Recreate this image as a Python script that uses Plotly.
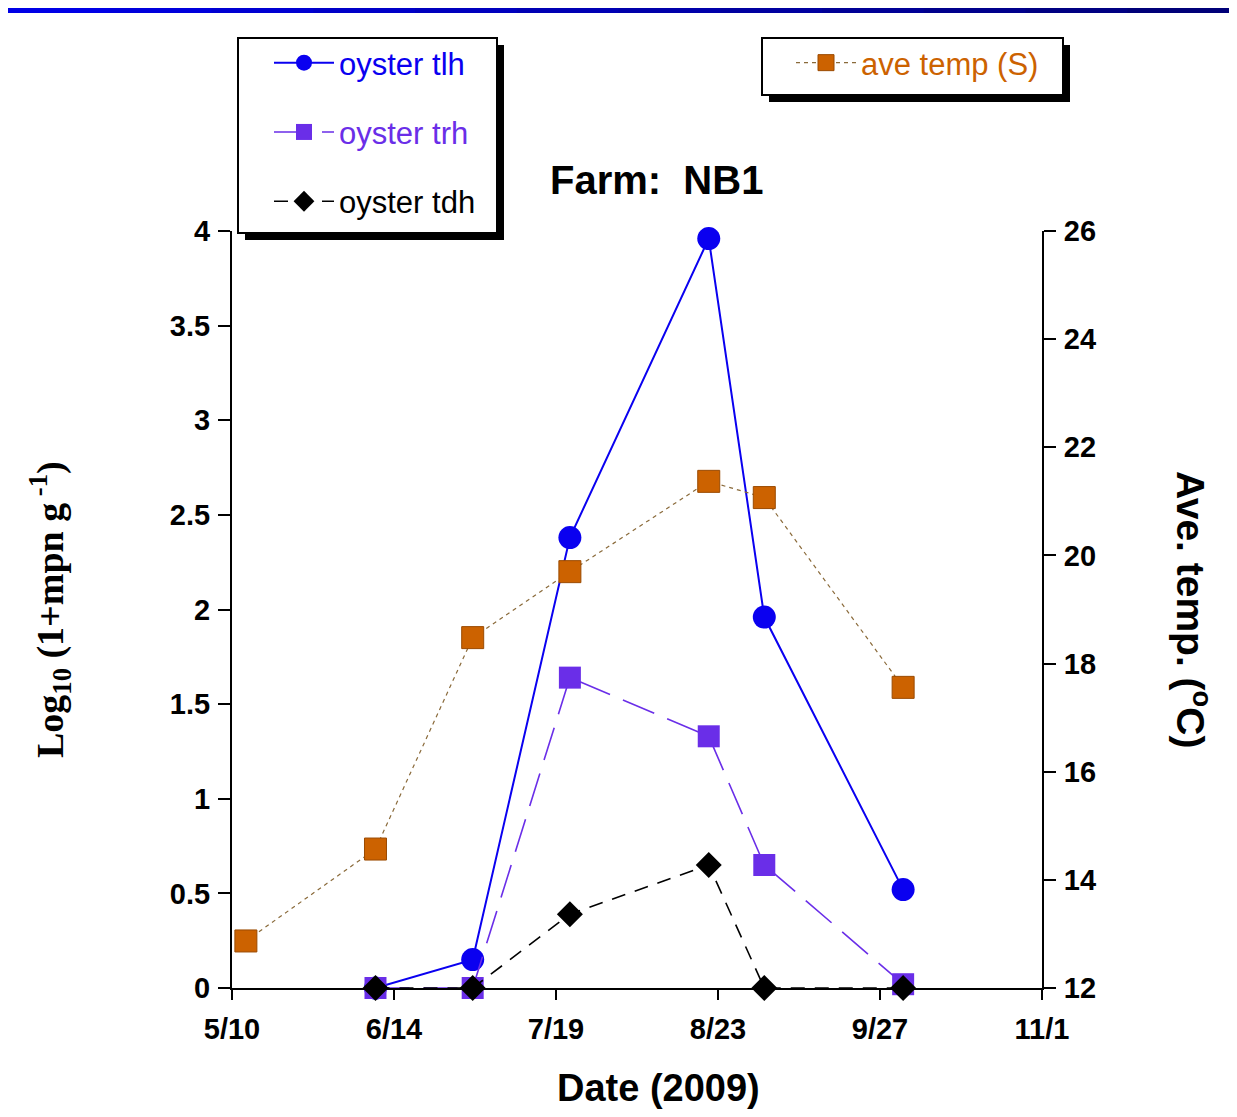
import plotly.graph_objects as go

# ---------------- data ----------------
sample_dates = ["2009-06-10", "2009-07-01", "2009-07-22", "2009-08-21", "2009-09-02", "2009-10-02"]
oyster_tlh = [0.0, 0.15, 2.38, 3.96, 1.96, 0.52]
oyster_trh = [0.0, 0.0, 1.64, 1.33, 0.65, 0.02]
oyster_tdh = [0.0, 0.0, 0.39, 0.65, 0.0, 0.0]

temp_dates = ["2009-05-13", "2009-06-10", "2009-07-01", "2009-07-22", "2009-08-21", "2009-09-02", "2009-10-02"]
ave_temp = [12.87, 14.57, 18.48, 19.70, 21.37, 21.07, 17.56]

x_tick_vals = ["2009-05-10", "2009-06-14", "2009-07-19", "2009-08-23", "2009-09-27", "2009-11-01"]
x_tick_text = ["5/10", "6/14", "7/19", "8/23", "9/27", "11/1"]

# ---------------- layout geometry (page pixels; page has an 8px body margin) ----------------
OFF = 8
W, H = 1237 - 2 * OFF, 1117 - 2 * OFF
PL, PR, PT, PB = 232, 1042, 231, 988          # plot area in page pixels
L, R, T, B = PL - OFF, PR - OFF, PT - OFF, PB - OFF


def px(xp):
    return (xp - PL) / (PR - PL)


def py(yp):
    return (PB - yp) / (PB - PT)


BLUE = "#0A00F0"
PURPLE = "#6A2EE8"
ORANGE = "#CC6200"
SANS = "Liberation Sans, Arial, sans-serif"
SERIF = "Liberation Serif, Times New Roman, serif"

fig = go.Figure()

fig.add_trace(go.Scatter(
    x=temp_dates, y=ave_temp, yaxis="y2", mode="lines+markers",
    name="<span style='color:%s'>ave temp (S)</span>" % ORANGE,
    line=dict(color="#8a6a3a", width=1.2, dash="4px,4px"),
    marker=dict(symbol="square", size=22, color=ORANGE, line=dict(color="#9a4a00", width=1)),
    cliponaxis=False, legend="legend2",
))
fig.add_trace(go.Scatter(
    x=sample_dates, y=oyster_tlh, mode="lines+markers",
    name="<span style='color:%s'>oyster tlh</span>" % BLUE,
    line=dict(color=BLUE, width=2),
    marker=dict(symbol="circle", size=23, color=BLUE),
    cliponaxis=False, legendgroup="a",
))
fig.add_trace(go.Scatter(
    x=sample_dates, y=oyster_trh, mode="lines+markers",
    name="<span style='color:%s'>oyster trh</span>" % PURPLE,
    line=dict(color=PURPLE, width=1.6, dash="34px,14px"),
    marker=dict(symbol="square", size=22, color=PURPLE),
    cliponaxis=False, legendgroup="b",
))
fig.add_trace(go.Scatter(
    x=sample_dates, y=oyster_tdh, mode="lines+markers",
    name="oyster tdh",
    line=dict(color="black", width=1.6, dash="14px,10px"),
    marker=dict(symbol="diamond", size=20, color="black"),
    cliponaxis=False, legendgroup="c",
))

shapes = []
# top slide bar (gradient approximated by segments)
n = 12
for i in range(n):
    t = i / (n - 1)
    b = int(230 - 110 * t)
    shapes.append(dict(type="rect", xref="paper", yref="paper",
                       x0=px(OFF + W * i / n), x1=px(OFF + W * (i + 1) / n) + 0.001,
                       y0=py(OFF + 5), y1=py(OFF), fillcolor="rgb(0,0,%d)" % b,
                       line=dict(width=0), layer="above"))

# legend boxes with drop shadow
for (x0, y0, x1, y1) in [(238, 38, 497, 233), (762, 38, 1063, 95)]:
    shapes.append(dict(type="rect", xref="paper", yref="paper",
                       x0=px(x0 + 7), x1=px(x1 + 7), y0=py(y1 + 7), y1=py(y0 + 7),
                       fillcolor="black", line=dict(width=0), layer="above"))
    shapes.append(dict(type="rect", xref="paper", yref="paper",
                       x0=px(x0), x1=px(x1), y0=py(y1), y1=py(y0),
                       fillcolor="white", line=dict(color="black", width=2), layer="above"))

annotations = [
    dict(text="<b>Farm:\u00a0 NB1</b>", xref="paper", yref="paper", x=px(656), y=py(180),
         showarrow=False, font=dict(family=SANS, size=40, color="black"),
         xanchor="center", yanchor="middle"),
    dict(text="<b>Date (2009)</b>", xref="paper", yref="paper", x=px(658), y=py(1088),
         showarrow=False, font=dict(family=SANS, size=38, color="black"),
         xanchor="center", yanchor="middle"),
    dict(text="<b>Log<sub>10</sub> (1+mpn g<sup> -1</sup>)</b>", xref="paper", yref="paper",
         x=px(50), y=py(610), textangle=-90, showarrow=False,
         font=dict(family=SERIF, size=38, color="black"), xanchor="center", yanchor="middle"),
    dict(text="<b>Ave. temp. (<sup>o</sup>C)</b>", xref="paper", yref="paper",
         x=px(1194), y=py(609), textangle=90, showarrow=False,
         font=dict(family=SANS, size=39, color="black"), xanchor="center", yanchor="middle"),
]

tickfont = dict(family=SANS, size=29, color="black", weight="bold")

fig.update_layout(
    width=W, height=H,
    margin=dict(l=L, r=W - R, t=T, b=H - B, autoexpand=False),
    paper_bgcolor="white", plot_bgcolor="white",
    showlegend=True,
    xaxis=dict(type="date", range=["2009-05-10", "2009-11-01"],
               tickvals=x_tick_vals, ticktext=x_tick_text,
               ticks="outside", ticklen=10, tickwidth=2, tickcolor="black",
               showline=True, linecolor="black", linewidth=2, showgrid=False,
               zeroline=False, tickfont=tickfont, ticklabelstandoff=4),
    yaxis=dict(range=[0, 4], dtick=0.5, ticks="outside", ticklen=12, tickwidth=2,
               tickcolor="black", showline=True, linecolor="black", linewidth=2,
               showgrid=False, zeroline=False, tickfont=tickfont, ticklabelstandoff=2),
    yaxis2=dict(range=[12, 26], dtick=2, overlaying="y", side="right", anchor="x",
                ticks="outside", ticklen=12, tickwidth=2, tickcolor="black",
                showline=True, linecolor="black", linewidth=2, showgrid=False,
                zeroline=False, tickfont=tickfont, ticklabelstandoff=2),
    legend=dict(x=px(269), y=py(36), xanchor="left", yanchor="top",
                bgcolor="rgba(0,0,0,0)", borderwidth=0, traceorder="grouped",
                tracegroupgap=26, itemwidth=60,
                font=dict(family=SANS, size=31, color="black")),
    legend2=dict(x=px(791), y=py(36), xanchor="left", yanchor="top",
                 bgcolor="rgba(0,0,0,0)", borderwidth=0, itemwidth=60,
                 font=dict(family=SANS, size=31, color="black")),
    shapes=shapes,
    annotations=annotations,
)

fig.write_html("out.html")
